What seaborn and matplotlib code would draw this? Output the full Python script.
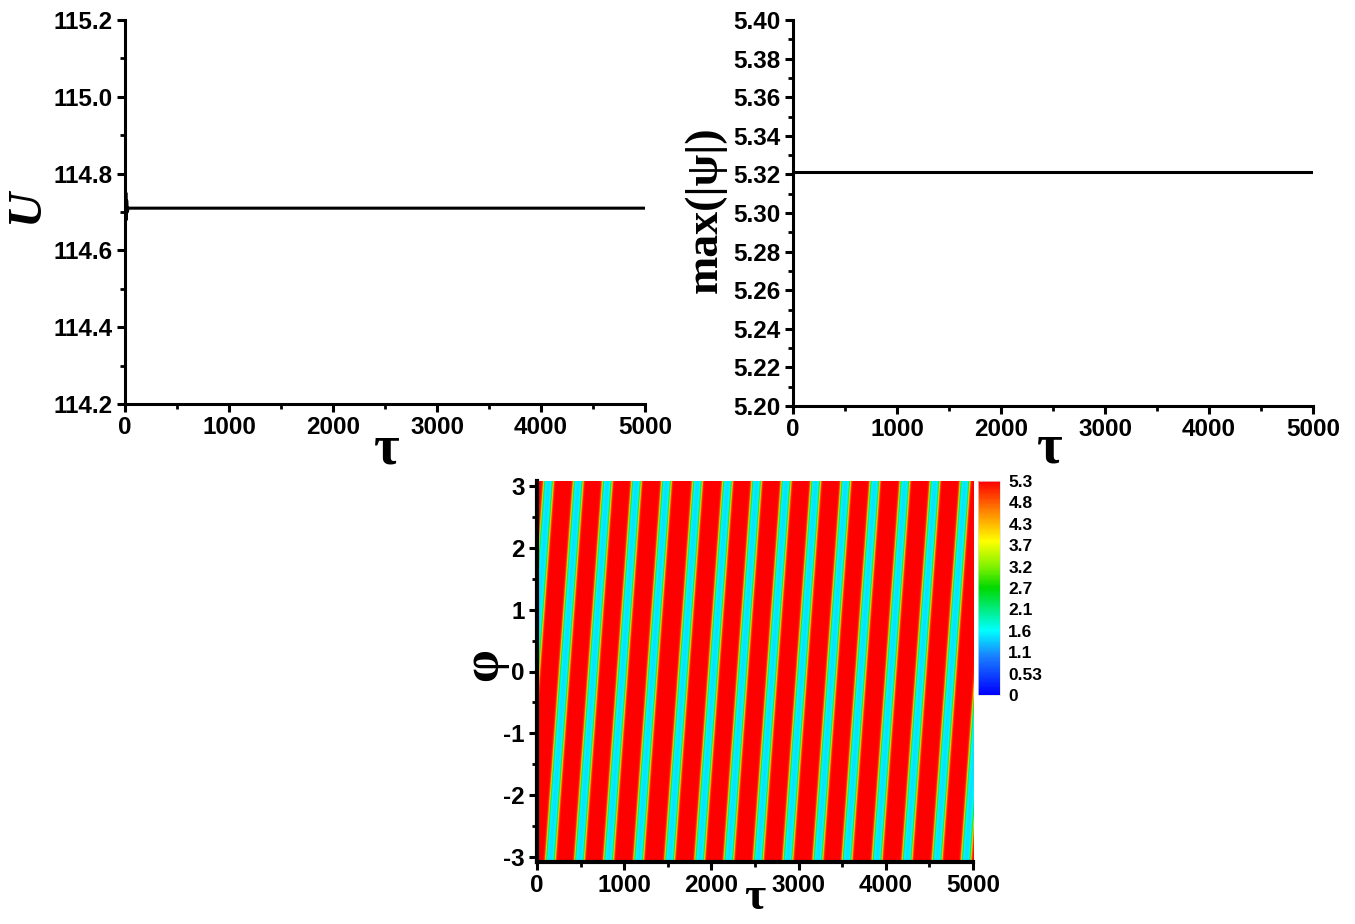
import numpy as np
import pandas as pd
import matplotlib
matplotlib.use("Agg")
import matplotlib.pyplot as plt
from matplotlib.colors import LinearSegmentedColormap
from matplotlib.ticker import MultipleLocator
import seaborn as sns

# ---------------- data ----------------
# panel (a): U vs tau (short transient near tau = 0, then flat)
tau_U = [0, 4, 8, 12, 16, 22, 30, 5000]
U_vals = [114.80, 114.66, 114.75, 114.68, 114.73, 114.70, 114.710, 114.710]

# panel (b): max|psi| vs tau (flat)
tau_M = [0, 5000]
M_vals = [5.321, 5.321]

# panel (c): stripe centres (tau) at phi = -pi, stripe drift across 2*pi, levels
stripe_tau0 = [-193, 147, 480, 813, 1157, 1512, 1856, 2189, 2527, 2866,
               3210, 3543, 3887, 4231, 4575, 4907]
stripe_drift = 327.0        # tau shift of a stripe from phi=-pi to phi=+pi
peak_level = 5.3
trough_level = 1.45
stripe_halfwidth = 52.0
stripe_edge = 14.0

cbar_ticks = [0, 0.53, 1.06, 1.59, 2.12, 2.65, 3.18, 3.71, 4.24, 4.77, 5.3]
cbar_labels = ["0", "0.53", "1.1", "1.6", "2.1", "2.7", "3.2", "3.7", "4.3", "4.8", "5.3"]

# ---------------- style ----------------
sns.set_theme(style="ticks")
plt.rcParams['font.family'] = ['Liberation Sans', 'DejaVu Sans']
plt.rcParams['font.weight'] = 'bold'
plt.rcParams['axes.linewidth'] = 2.2
plt.rcParams['axes.unicode_minus'] = False
plt.rcParams['text.color'] = 'black'
plt.rcParams['axes.labelcolor'] = 'black'
plt.rcParams['xtick.color'] = 'black'
plt.rcParams['ytick.color'] = 'black'
plt.rcParams['axes.edgecolor'] = 'black'

fig = plt.figure(figsize=(13.55, 9.24), dpi=100)
fig.patch.set_facecolor('white')

serif = ['Liberation Serif', 'DejaVu Serif']
tick_fs = 17.5


def style_axes(ax):
    sns.despine(ax=ax)
    ax.tick_params(axis='both', which='major', direction='out', length=6, width=2.2,
                   labelsize=tick_fs, pad=3, colors='black')
    ax.tick_params(axis='both', which='minor', direction='out', length=3.5, width=2.0,
                   colors='black')
    for lab in ax.get_xticklabels() + ax.get_yticklabels():
        lab.set_fontweight('bold')
    for s in ('left', 'bottom'):
        ax.spines[s].set_color('black')
    ax.set_facecolor('white')


# ---- panel (a)
ax1 = fig.add_axes([125/1355, 1-404/924, 520/1355, 384/924])
sns.lineplot(x=tau_U, y=U_vals, ax=ax1, color='black', lw=2.2, sort=False)
ax1.set_xlim(0, 5000)
ax1.set_ylim(114.2, 115.2)
ax1.xaxis.set_major_locator(MultipleLocator(1000))
ax1.xaxis.set_minor_locator(MultipleLocator(500))
ax1.yaxis.set_major_locator(MultipleLocator(0.2))
ax1.yaxis.set_minor_locator(MultipleLocator(0.1))
ax1.yaxis.set_major_formatter(matplotlib.ticker.FormatStrFormatter('%.1f'))
style_axes(ax1)
ax1.set_ylabel('U', family=serif, style='italic', weight='bold', fontsize=35)
ax1.yaxis.set_label_coords(-0.19, 0.514)
ax1.yaxis.label.set_va('center')
ax1.set_xlabel('τ', family=serif, weight='bold', fontsize=40)
ax1.xaxis.set_label_coords(0.504, -0.118)
ax1.xaxis.label.set_va('center')

# ---- panel (b)
ax2 = fig.add_axes([793/1355, 1-406/924, 520/1355, 386/924])
sns.lineplot(x=tau_M, y=M_vals, ax=ax2, color='black', lw=2.2)
ax2.set_xlim(0, 5000)
ax2.set_ylim(5.20, 5.40)
ax2.xaxis.set_major_locator(MultipleLocator(1000))
ax2.xaxis.set_minor_locator(MultipleLocator(500))
ax2.yaxis.set_major_locator(MultipleLocator(0.02))
ax2.yaxis.set_minor_locator(MultipleLocator(0.01))
ax2.yaxis.set_major_formatter(matplotlib.ticker.FormatStrFormatter('%.2f'))
style_axes(ax2)
ax2.set_ylabel('max(|ψ|)', family=serif, weight='bold', fontsize=33)
ax2.yaxis.set_label_coords(-0.168, 0.508)
ax2.yaxis.label.set_va('center')
ax2.set_xlabel('τ', family=serif, weight='bold', fontsize=40)
ax2.xaxis.set_label_coords(0.494, -0.11)
ax2.xaxis.label.set_va('center')

# ---- panel (c)
phi_lo, phi_hi = -3.08, 3.08
tau_grid = np.linspace(0, 5000, 1400)
phi_grid = np.linspace(phi_lo, phi_hi, 420)
T, P = np.meshgrid(tau_grid, phi_grid)
field = np.full_like(T, peak_level)
for c0 in stripe_tau0:
    centre = c0 + stripe_drift * (P + np.pi) / (2 * np.pi)
    d = np.abs(T - centre)
    g = 0.5 * (1 + np.tanh((stripe_halfwidth - d) / stripe_edge))
    field -= (peak_level - trough_level) * g

cmap = LinearSegmentedColormap.from_list(
    'origin_rainbow',
    [(0.0, (0.0, 0.0, 1.0)),
     (0.18, (0.1, 0.5, 1.0)),
     (0.30, (0.0, 1.0, 1.0)),
     (0.50, (0.0, 0.85, 0.0)),
     (0.60, (0.5, 0.95, 0.0)),
     (0.72, (1.0, 1.0, 0.0)),
     (0.85, (1.0, 0.55, 0.0)),
     (1.0, (1.0, 0.0, 0.0))])

ax3 = fig.add_axes([537/1355, 1-862/924, 436/1355, 381/924])
im = ax3.imshow(field, extent=[0, 5000, phi_lo, phi_hi], origin='lower', aspect='auto',
                cmap=cmap, vmin=0, vmax=5.3, interpolation='bilinear')
ax3.set_xlim(0, 5000)
ax3.set_ylim(phi_lo, phi_hi)
ax3.xaxis.set_major_locator(MultipleLocator(1000))
ax3.xaxis.set_minor_locator(MultipleLocator(500))
ax3.yaxis.set_major_locator(MultipleLocator(1))
ax3.yaxis.set_minor_locator(MultipleLocator(0.5))
style_axes(ax3)
ax3.spines['left'].set_linewidth(3)
ax3.spines['bottom'].set_linewidth(3)
ax3.set_ylabel('φ', family=serif, weight='bold', fontsize=38)
ax3.yaxis.set_label_coords(-0.122, 0.517)
ax3.yaxis.label.set_va('center')
ax3.set_xlabel('τ', family=serif, weight='bold', fontsize=33)
ax3.xaxis.set_label_coords(0.5, -0.095)
ax3.xaxis.label.set_va('center')

cax = fig.add_axes([978/1355, 1-695/924, 22/1355, 214/924])
cb = fig.colorbar(im, cax=cax, ticks=cbar_ticks)
cb.ax.set_yticklabels(cbar_labels)
cb.ax.tick_params(length=0, labelsize=12.5, pad=6, colors='black')
for lab in cb.ax.get_yticklabels():
    lab.set_fontweight('bold')
cb.outline.set_linewidth(0.5)
cb.outline.set_edgecolor('#dddddd')

fig.savefig('out.png', dpi=100, facecolor='white')
